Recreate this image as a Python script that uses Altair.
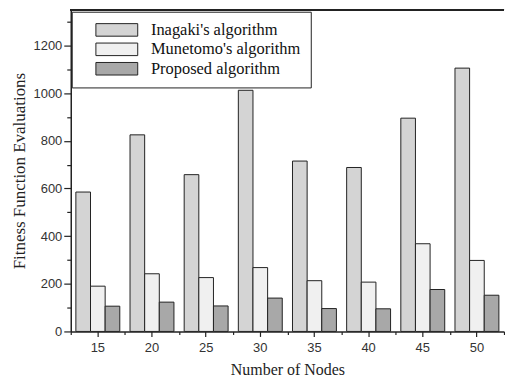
import altair as alt
import pandas as pd

nodes = [15, 20, 25, 30, 35, 40, 45, 50]
algorithms = ["Inagaki's algorithm", "Munetomo's algorithm", "Proposed algorithm"]
inagaki = [585, 825, 658, 1012, 715, 688, 895, 1105]
munetomo = [190, 242, 226, 268, 213, 207, 368, 298]
proposed = [106, 123, 107, 140, 96, 95, 176, 152]
fills = ["#d4d4d4", "#f0f0f0", "#a8a8a8"]

major_y = [0, 200, 400, 600, 800, 1000, 1200]
minor_y = [100, 300, 500, 700, 900, 1100, 1300]

rows = []
for series, vals in zip(algorithms, [inagaki, munetomo, proposed]):
    for n, v in zip(nodes, vals):
        rows.append({"nodes": n, "algorithm": series, "value": v})
df = pd.DataFrame(rows)

W, H = 435, 323
sans = "Liberation Sans"
serif = "Liberation Serif"
nb = "\u00a0" * 8

xscale = alt.Scale(domain=nodes, paddingInner=0, paddingOuter=0)
yscale = alt.Scale(domain=[0, 1350], nice=False, zero=True)

bars = alt.Chart(df).mark_bar(stroke="#222222", strokeWidth=1).encode(
    x=alt.X("nodes:O", scale=xscale, sort=nodes,
            axis=alt.Axis(orient="bottom", title="Number of Nodes", labelAngle=0,
                          labelFont=sans, labelFontSize=13, labelColor="#333333",
                          labelPadding=5, tickSize=5, tickColor="#222222",
                          domainColor="#222222", domainWidth=1.5, tickWidth=1.2,
                          titleFont=serif, titleFontSize=16, titleFontWeight="normal",
                          titleColor="#222222", titlePadding=7)),
    xOffset=alt.XOffset("algorithm:N", sort=algorithms,
                        scale=alt.Scale(domain=algorithms, paddingInner=0, paddingOuter=0.35)),
    y=alt.Y("value:Q", scale=yscale,
            axis=alt.Axis(orient="left", values=major_y, format="d",
                          title="Fitness Function Evaluations",
                          labelFont=sans, labelFontSize=13, labelColor="#333333",
                          labelPadding=2, tickSize=7, tickColor="#222222", tickWidth=1.2,
                          domainColor="#222222", domainWidth=1.5, grid=False,
                          titleFont=serif, titleFontSize=17, titleFontWeight="normal",
                          titleColor="#222222", titlePadding=5)),
    fill=alt.Fill("algorithm:N", sort=algorithms,
                  scale=alt.Scale(domain=algorithms, range=fills),
                  legend=alt.Legend(title=None, orient="none", legendX=1, legendY=2,
                                    symbolType="M-3,-0.9 L3,-0.9 L3,0.9 L-3,0.9 Z",
                                    symbolSize=196, symbolStrokeColor="#222222",
                                    symbolStrokeWidth=1, symbolOffset=27,
                                    labelFont=serif, labelFontSize=16.5, labelColor="#111111",
                                    labelOffset=26, labelExpr="datum.label + '" + nb + "'",
                                    labelLimit=400,
                                    padding=10, rowPadding=1.5,
                                    strokeColor="#222222", fillColor="white")),
)

minor = alt.Chart(df).mark_point(opacity=0).encode(
    x=alt.X("nodes:O", scale=xscale, sort=nodes,
            axis=alt.Axis(orient="bottom", title=None, labels=False, domain=False,
                          tickBand="extent", tickSize=3, tickColor="#222222", tickWidth=1.2)),
    y=alt.Y("value:Q", scale=yscale,
            axis=alt.Axis(orient="left", values=minor_y, title=None, labels=False,
                          domain=False, grid=False, tickSize=4, tickColor="#222222",
                          tickWidth=1.2)),
)

top = alt.Chart(df).mark_rule(color="#222222", strokeWidth=1.5).encode(
    x=alt.value(0), x2=alt.value(W), y=alt.value(0)
)

chart = alt.layer(bars, minor, top).resolve_axis(x="independent", y="independent").properties(
    width=W, height=H, padding={"left": 2, "top": 0, "right": 0, "bottom": 0}
).configure_view(stroke=None)

chart.save("out.html", embed_options={"renderer": "svg", "actions": False})
